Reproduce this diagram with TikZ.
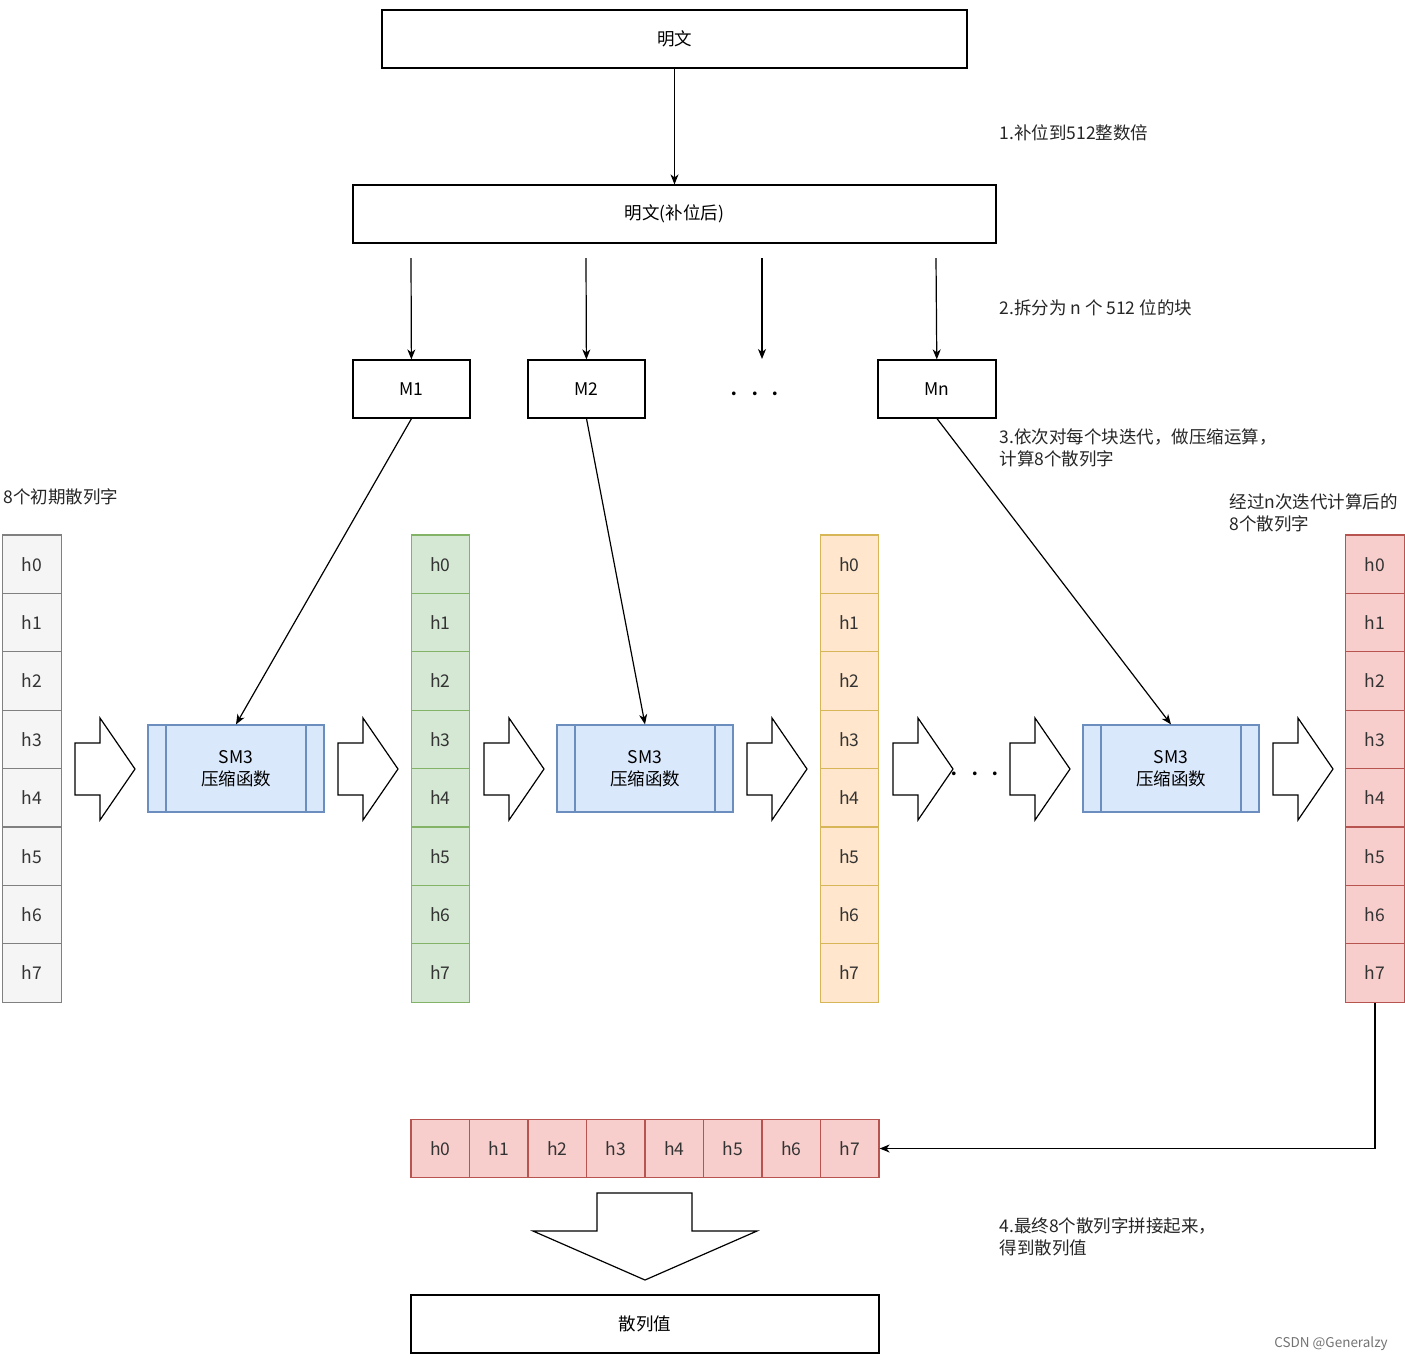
\documentclass[tikz,border=0pt]{standalone}
\usepackage{fontspec}
\setmainfont{Noto Sans CJK SC}
\usetikzlibrary{arrows.meta}

\definecolor{grayfill}{HTML}{F5F5F5}
\definecolor{graydraw}{HTML}{808080}
\definecolor{greenfill}{HTML}{D5E8D4}
\definecolor{greendraw}{HTML}{82B366}
\definecolor{orangefill}{HTML}{FFE6CC}
\definecolor{orangedraw}{HTML}{D6B656}
\definecolor{redfill}{HTML}{F8CECC}
\definecolor{reddraw}{HTML}{B85450}
\definecolor{bluefill}{HTML}{DAE8FC}
\definecolor{bluedraw}{HTML}{6C8EBF}

\tikzset{
	box/.style={draw,line width=1.2pt,minimum height=58pt,inner sep=0pt},
	cell/.style={draw,line width=1.2pt,minimum width=58.5pt,minimum height=58.4pt,inner sep=0pt,text=black!80},
	proc/.style={draw=bluedraw,fill=bluefill,line width=1.2pt,minimum width=176pt,minimum height=87pt,align=center,
		path picture={\draw[bluedraw,line width=1.2pt]
			([xshift=18pt]path picture bounding box.north west) -- ([xshift=18pt]path picture bounding box.south west)
			([xshift=-18pt]path picture bounding box.north east) -- ([xshift=-18pt]path picture bounding box.south east);}},
	note/.style={anchor=west,align=left,text=black!85},
	link/.style={line width=1.2pt,-{Stealth[length=10pt,width=8pt,inset=3pt]}},
	barrow/.pic={\draw[line width=1.2pt,fill=white] (0,-26) -- (25,-26) -- (25,-51) -- (60,0) -- (25,51) -- (25,26) -- (0,26) -- cycle;}
}

\begin{document}
\begin{tikzpicture}[x=1pt,y=-1pt,font=\fontsize{17.5}{22}\selectfont]
	\useasboundingbox (0,0) rectangle (1405,1361);

	\node[box,minimum width=585pt] (plain) at (674.5,39) {明文};
	\node[box,minimum width=643pt] (padded) at (674.5,214) {明文(补位后)};
	\node[box,minimum width=117pt] (m1) at (411.5,389) {M1};
	\node[box,minimum width=117pt] (m2) at (586.5,389) {M2};
	\node[box,minimum width=118pt] (mn) at (937,389) {Mn};
	\node (dots1) at (755,396) {·\,·\,·};

	\coordinate (s1) at (411,258);
	\coordinate (s2) at (586,258);
	\coordinate (s3) at (762,258);
	\coordinate (e3) at (762,359);
	\coordinate (s4) at (936,258);

	\draw[link] (plain) -- (padded);
	\draw[link] (s1) -- (m1);
	\draw[link] (s2) -- (m2);
	\draw[link] (s3) -- (e3);
	\draw[link] (s4) -- (mn);

	\node[note] (t1) at (996,133) {1.补位到512整数倍};
	\node[note] (t2) at (996,308) {2.拆分为 n 个 512 位的块};
	\node[note] (t3) at (996,448) {3.依次对每个块迭代，做压缩运算，\\计算8个散列字};
	\node[note] (t4) at (0,497) {8个初期散列字};
	\node[note] (t5) at (1226,513) {经过n次迭代计算后的\\8个散列字};
	\node[note] (t6) at (996,1237) {4.最终8个散列字拼接起来，\\得到散列值};

	\foreach \i in {0,...,7}{
		\node[cell,fill=grayfill,draw=graydraw] (g\i) at (32,564.2+58.4*\i) {h\i};
		\node[cell,fill=greenfill,draw=greendraw] (a\i) at (440.5,564.2+58.4*\i) {h\i};
		\node[cell,fill=orangefill,draw=orangedraw] (b\i) at (849.5,564.2+58.4*\i) {h\i};
		\node[cell,fill=redfill,draw=reddraw] (c\i) at (1375,564.2+58.4*\i) {h\i};
		\node[cell,fill=redfill,draw=reddraw] (r\i) at (440.25+58.5*\i,1148.5) {h\i};
	}

	\node[proc] (sm1) at (236,768.5) {SM3\\压缩函数};
	\node[proc] (sm2) at (645,768.5) {SM3\\压缩函数};
	\node[proc] (sm3) at (1171,768.5) {SM3\\压缩函数};

	\draw[link] (m1.south) -- (sm1.north);
	\draw[link] (m2.south) -- (sm2.north);
	\draw[link] (mn.south) -- (sm3.north);

	\foreach \x in {75,338,484,747,893,1010,1273}
		\pic at (\x,769) {barrow};
	\node (dots2) at (975,776) {·\,·\,·};

	\draw[link] (c7.south) |- (r7.east);

	\draw[line width=1.2pt] (597,1193) -- (692,1193) -- (692,1231) -- (757,1231) -- (645,1280) -- (533,1231) -- (597,1231) -- cycle;
	\node[box,minimum width=468pt] (hash) at (645,1324) {散列值};

	\node[text=black!55,font=\fontsize{13.5}{16}\selectfont] (mark) at (1331,1344) {CSDN @Generalzy};
\end{tikzpicture}
\end{document}
